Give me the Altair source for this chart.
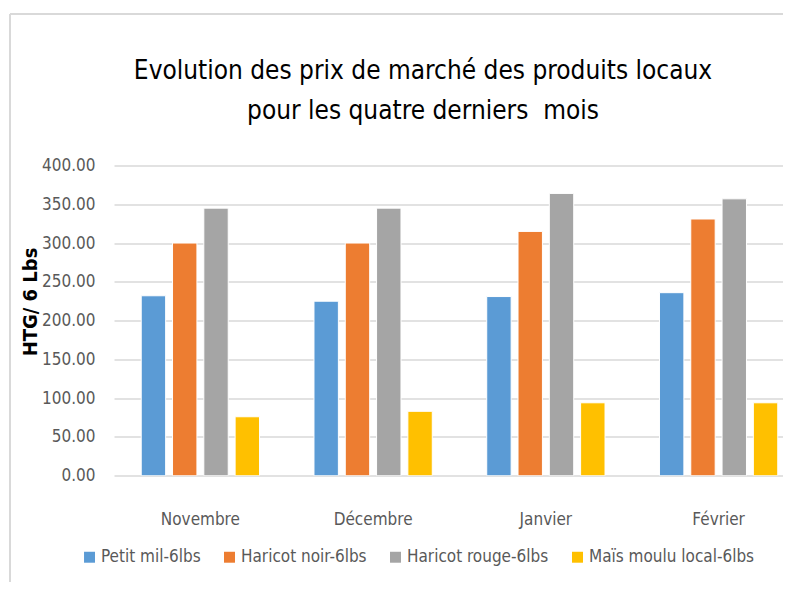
import altair as alt
import pandas as pd

months = ["Novembre", "Décembre", "Janvier", "Février"]
products = ["Petit mil-6lbs", "Haricot noir-6lbs", "Haricot rouge-6lbs", "Maïs moulu local-6lbs"]
petit_mil = [232, 225, 231, 236]
haricot_noir = [300, 300, 315, 331]
haricot_rouge = [345, 345, 364, 357]
mais_moulu = [76, 83, 94, 94]
colors = ["#5B9BD5", "#ED7D31", "#A5A5A5", "#FFC000"]
y_ticks = [0, 50, 100, 150, 200, 250, 300, 350, 400]
title_lines = ["Evolution des prix de marché des produits locaux",
               "pour les quatre derniers\u00a0 mois"]

series = [petit_mil, haricot_noir, haricot_rouge, mais_moulu]
rows = []
for p, vals in zip(products, series):
    for m, v in zip(months, vals):
        rows.append({"mois": m, "produit": p, "prix": v})
df = pd.DataFrame(rows)

FONT = "DejaVu Sans Condensed, sans-serif"

bars = alt.Chart(df).mark_bar(stroke="white", strokeWidth=1, clip=True).encode(
    x=alt.X("mois:N", sort=months, title=None,
            scale=alt.Scale(range=[0, 691], paddingInner=0, paddingOuter=0),
            axis=alt.Axis(labelFont=FONT, labelFontSize=17, labelColor="#595959",
                          labelPadding=36, ticks=False, domain=False, grid=False, labelAngle=0)),
    xOffset=alt.XOffset("produit:N", sort=products,
                        scale=alt.Scale(paddingInner=0.22, paddingOuter=0.87)),
    y=alt.Y("prix:Q", title="HTG/ 6 Lbs",
            scale=alt.Scale(domain=[0, 400], nice=False),
            axis=alt.Axis(values=y_ticks, format=".2f", labelFont=FONT, labelFontSize=17,
                          labelColor="#595959", labelPadding=19, ticks=False, domain=False,
                          gridColor="#D9D9D9", gridWidth=1.5,
                          titleFont=FONT, titleFontSize=20, titleFontWeight="bold",
                          titleColor="black", titleX=-74, titleY=136)),
    color=alt.Color("produit:N", sort=products,
                    scale=alt.Scale(domain=products, range=colors),
                    legend=alt.Legend(title=None, orient="none", direction="horizontal",
                                      columns=4, legendX=-33, legendY=383,
                                      symbolType="square", symbolSize=120,
                                      symbolStrokeWidth=0, labelFont=FONT, labelFontSize=17,
                                      labelColor="#595959", columnPadding=20, labelOffset=3,
                                      labelLimit=400)),
)

title_df = pd.DataFrame({"t": title_lines})
title1 = alt.Chart(title_df.iloc[[0]]).mark_text(font=FONT, fontSize=26, color="black",
                                                 align="center", baseline="alphabetic").encode(
    text="t:N", x=alt.value(309), y=alt.value(-86))
title2 = alt.Chart(title_df.iloc[[1]]).mark_text(font=FONT, fontSize=26, color="black",
                                                 align="center", baseline="alphabetic").encode(
    text="t:N", x=alt.value(309), y=alt.value(-46))

border_left = alt.Chart(df).mark_rule(color="#D9D9D9", strokeWidth=2).encode(
    x=alt.value(-104), y=alt.value(-151.5), y2=alt.value(440))
border_top = alt.Chart(df).mark_rule(color="#D9D9D9", strokeWidth=2).encode(
    x=alt.value(-104), x2=alt.value(669), y=alt.value(-151.5))

chart = alt.layer(bars, title1, title2, border_left, border_top).properties(
    width=669, height=310.2,
    autosize=alt.AutoSizeParams(type="none"),
    padding={"left": 106, "top": 157.5, "right": 0, "bottom": 106},
).configure_view(stroke=None)

chart.save("out.html", embed_options={"renderer": "svg", "actions": False})
